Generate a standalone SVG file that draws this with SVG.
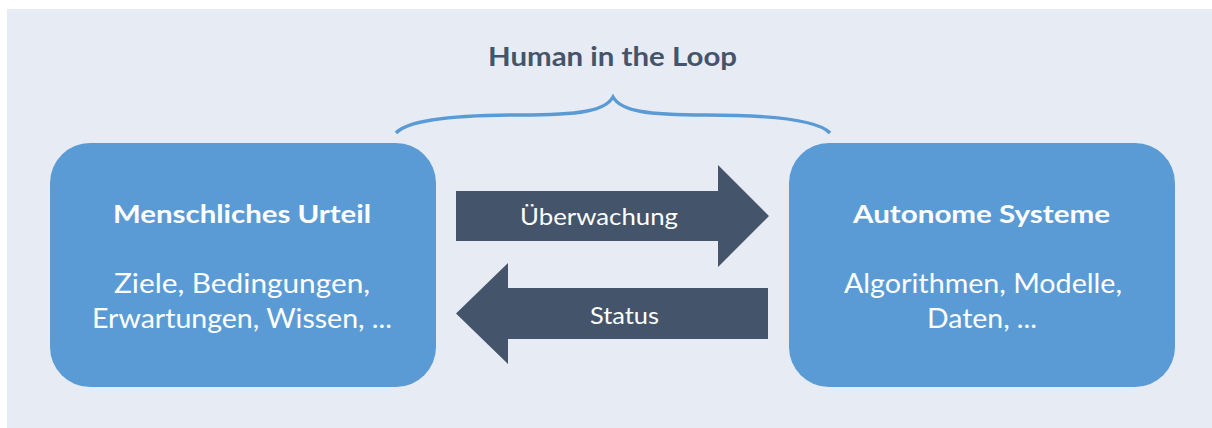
<svg xmlns="http://www.w3.org/2000/svg" width="1212" height="428" viewBox="0 0 1212 428">
<style>
.box{fill:#5b9bd5}
.arrow{fill:#44546a}
.head{font-family:Lato,"Liberation Sans",sans-serif;font-weight:700;fill:#fff;font-size:25px;text-anchor:middle}
.sub{font-family:Lato,"Liberation Sans",sans-serif;font-weight:400;fill:#fff;font-size:27px;text-anchor:middle}
.lbl{font-family:Lato,"Liberation Sans",sans-serif;font-weight:400;fill:#fff;font-size:23px;text-anchor:middle}
.title{font-family:Lato,"Liberation Sans",sans-serif;font-weight:700;fill:#44546a;font-size:26px;text-anchor:middle}
</style>
<rect x="0" y="0" width="1212" height="428" fill="#ffffff"/>
<rect x="7" y="9" width="1205" height="419" fill="#e7ecf4"/>
<g id="title">
<text class="title" x="612.5" y="66" textLength="249" lengthAdjust="spacingAndGlyphs">Human in the Loop</text>
<path d="M396,133 C410,118 470,115 520,115 C580,115 605,111 613,97 C621,111 646,115 706,115 C756,115 816,118 830,133" fill="none" stroke="#5b9bd5" stroke-width="3.5"/>
</g>
<g id="node-human">
<rect class="box" x="50" y="143" width="386" height="244" rx="40"/>
<text class="head" x="242" y="223" textLength="258" lengthAdjust="spacingAndGlyphs">Menschliches Urteil</text>
<text class="sub" x="242" y="293" textLength="256" lengthAdjust="spacingAndGlyphs">Ziele, Bedingungen,</text>
<text class="sub" x="242" y="328" textLength="300" lengthAdjust="spacingAndGlyphs">Erwartungen, Wissen, ...</text>
</g>
<g id="node-auto">
<rect class="box" x="789" y="143" width="386" height="244" rx="40"/>
<text class="head" x="981.5" y="223" textLength="257" lengthAdjust="spacingAndGlyphs">Autonome Systeme</text>
<text class="sub" x="983" y="293" textLength="278" lengthAdjust="spacingAndGlyphs">Algorithmen, Modelle,</text>
<text class="sub" x="982" y="328" textLength="110" lengthAdjust="spacingAndGlyphs">Daten, ...</text>
</g>
<g id="connectors">
<g id="arrow-ueberwachung">
<polygon class="arrow" points="456,191 718,191 718,165 769,216 718,267 718,241 456,241"/>
<text class="lbl" x="599" y="225" textLength="158" lengthAdjust="spacingAndGlyphs">Überwachung</text>
</g>
<g id="arrow-status">
<polygon class="arrow" points="768,288 508,288 508,263 456,313.5 508,364 508,339 768,339"/>
<text class="lbl" x="624.5" y="324" textLength="69" lengthAdjust="spacingAndGlyphs">Status</text>
</g>
</g>
</svg>
